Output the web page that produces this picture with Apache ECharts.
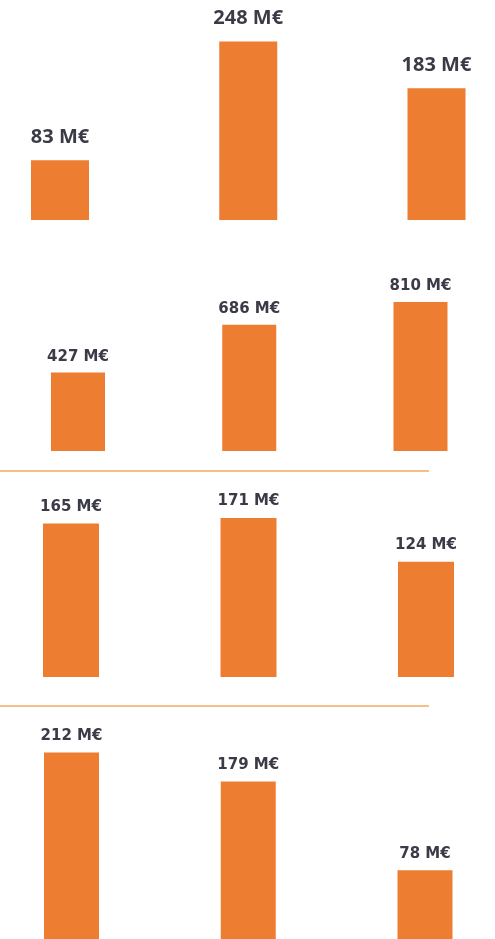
<!DOCTYPE html>
<html>
<head>
<meta charset="utf-8">
<script src="https://cdn.jsdelivr.net/npm/echarts@6/dist/echarts.min.js"></script>
<style>
  html, body { margin: 0; padding: 0; background: #fff; }
  #main { width: 495px; height: 939px; }
</style>
</head>
<body>
<div id="main"></div>
<script>
// data
const categories = ['1', '2', '3'];
const panel1 = [83, 248, 183];
const panel2 = [427, 686, 810];
const panel3 = [165, 171, 124];
const panel4 = [212, 179, 78];
const yMax = [300, 1000, 200, 250];

const barColor = '#ED7D31';
const labelColor = '#3B3B48';

// layout for each panel: grid box, bar width, label style
const panels = [
    {data: panel1, grid: {left: 60, right: 58.5, top: 4, height: 216}, barWidth: 58, font: 'Open Sans', size: 20, dist: 13},
    {data: panel2, grid: {left: 78, right: 74.5, top: 267, height: 184}, barWidth: 54, font: 'DejaVu Sans', size: 15, dist: 8},
    {data: panel3, grid: {left: 71, right: 69, top: 491, height: 186}, barWidth: 56, font: 'DejaVu Sans', size: 15, dist: 9},
    {data: panel4, grid: {left: 71.5, right: 70, top: 719, height: 224}, barWidth: 55, font: 'DejaVu Sans', size: 15, dist: 9}
];

let grid = [], xAxis = [], yAxis = [], series = [];
panels.forEach((p, i) => {
    grid.push(p.grid);
    xAxis.push({
        type: 'category', gridIndex: i, data: categories, boundaryGap: false,
        axisLine: {show: false}, axisTick: {show: false}, axisLabel: {show: false}
    });
    yAxis.push({
        type: 'value', gridIndex: i, min: 0, max: yMax[i],
        axisLine: {show: false}, axisLabel: {show: false}, splitLine: {show: false}
    });
    series.push({
        type: 'bar', xAxisIndex: i, yAxisIndex: i, data: p.data,
        barWidth: p.barWidth, clip: false,
        itemStyle: {color: barColor},
        label: {
            show: true, position: 'top', distance: p.dist,
            formatter: '{c} M€',
            fontFamily: p.font, fontWeight: 'bold', fontSize: p.size, color: labelColor
        },
        animation: false
    });
});

let myChart = echarts.init(document.getElementById('main'));
myChart.setOption({
    animation: false,
    grid: grid,
    xAxis: xAxis,
    yAxis: yAxis,
    series: series,
    // thin separator lines between the panels
    graphic: [
        {type: 'line', shape: {x1: 0, y1: 471, x2: 429, y2: 471}, style: {stroke: '#F6A95E', lineWidth: 1.5}},
        {type: 'line', shape: {x1: 0, y1: 706, x2: 429, y2: 706}, style: {stroke: '#F6A95E', lineWidth: 1.5}}
    ]
});
</script>
</body>
</html>
